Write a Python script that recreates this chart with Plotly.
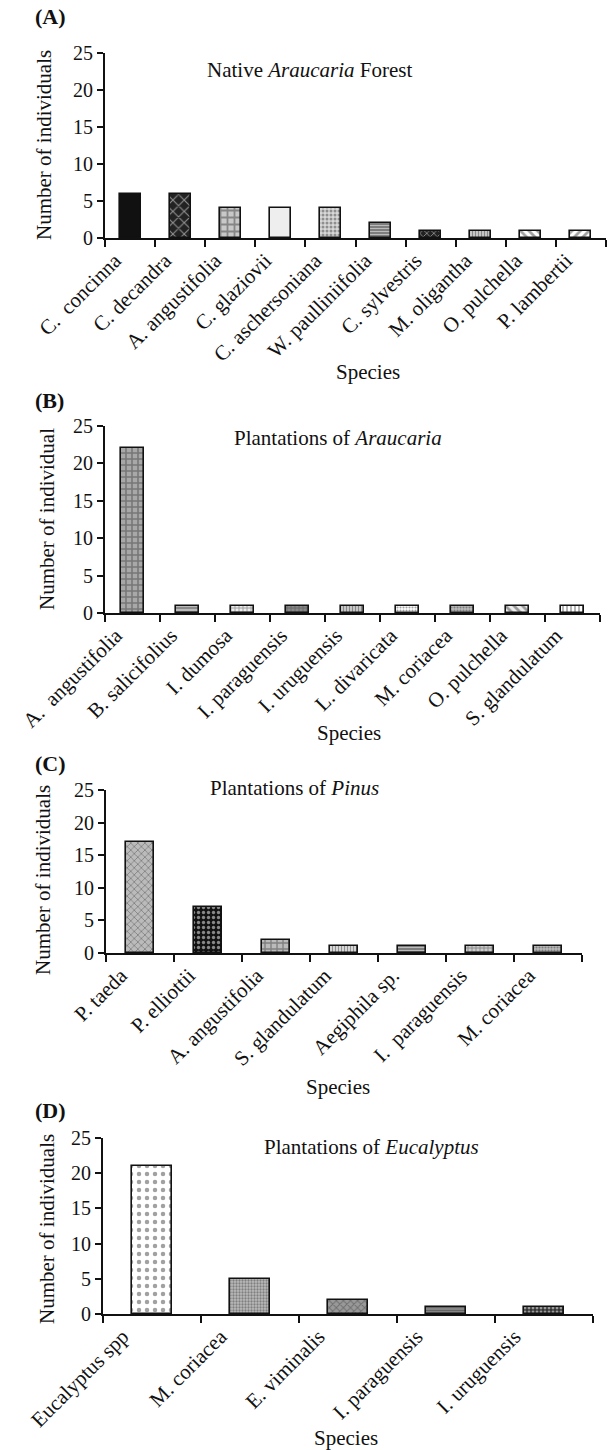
import plotly.graph_objects as go

# ---------------- data ----------------
cats_a = ["C.  concinna", "C. decandra", "A. angustifolia", "C. glaziovii", "C. aschersoniana",
          "W. paulliniifolia", "C. sylvestris", "M. oligantha", "O. pulchella", "P. lambertii"]
vals_a = [6, 6, 4, 4, 4, 2, 1, 1, 1, 1]

cats_b = ["A.  angustifolia", "B. salicifolius", "I. dumosa", "I. paraguensis", "I. uruguensis",
          "L. divaricata", "M. coriacea", "O. pulchella", "S. glandulatum"]
vals_b = [22, 1, 1, 1, 1, 1, 1, 1, 1]

cats_c = ["P. taeda", "P. elliottii", "A. angustifolia", "S. glandulatum", "Aegiphila sp.",
          "I.  paraguensis", "M. coriacea"]
vals_c = [17, 7, 2, 1, 1, 1, 1]

cats_d = ["Eucalyptus spp", "M. coriacea", "E. viminalis", "I. paraguensis", "I. uruguensis"]
vals_d = [21, 5, 2, 1, 1]

yticks = [0, 5, 10, 15, 20, 25]

panel_letters = ["(A)", "(B)", "(C)", "(D)"]
panel_titles = ["Native <i>Araucaria</i> Forest", "Plantations of <i>Araucaria</i>",
                "Plantations of <i>Pinus</i>", "Plantations of <i>Eucalyptus</i>"]
ytitles = ["Number of individuals", "Number of individual",
           "Number of individuals", "Number of individuals"]
xtitle = "Species"

# ---------------- styles ----------------
# (shape, fg, bg, size, solidity)
sty_a = [("", "#111", "#111111", 8, 0.3), ("x", "#ffffff", "#222222", 8, 0.25), ("+", "#111", "#c8c8c8", 7, 0.45),
         ("", "#eee", "#eeeeee", 8, 0.3), (".", "#666", "#d8d8d8", 4, 0.45), ("-", "#333", "#777777", 3, 0.4),
         ("x", "#aaa", "#222222", 5, 0.3), ("|", "#333", "#cccccc", 3, 0.4), ("\\", "#111", "#ffffff", 6, 0.45),
         ("/", "#111", "#ffffff", 6, 0.45)]
sty_b = [("+", "#111", "#a8a8a8", 6, 0.45), ("-", "#555", "#bbbbbb", 4, 0.4), ("+", "#777", "#eeeeee", 4, 0.4),
         ("+", "#111", "#888888", 4, 0.4), ("|", "#222", "#cccccc", 3, 0.4), (".", "#999", "#ffffff", 3, 0.4),
         (".", "#555", "#bbbbbb", 3, 0.4), ("\\", "#111", "#eeeeee", 6, 0.45), ("|", "#111", "#ffffff", 4, 0.4)]
sty_c = [("x", "#ffffff", "#bbbbbb", 5, 0.3), (".", "#999", "#111111", 5, 0.35), ("+", "#111", "#bbbbbb", 6, 0.4),
         ("|", "#333", "#dddddd", 3, 0.4), ("-", "#222", "#777777", 3, 0.4), ("+", "#333", "#cccccc", 4, 0.4),
         (".", "#555", "#bbbbbb", 3, 0.4)]
sty_d = [(".", "#999", "#ffffff", 8, 0.25), (".", "#666", "#bbbbbb", 3, 0.45), ("x", "#111", "#999999", 5, 0.35),
         ("-", "#333", "#888888", 3, 0.4), (".", "#ffffff", "#333333", 4, 0.4)]

W, H = 612, 1450
# pixel layout: (x0, x1, ytop, ybottom)
boxes = [(105, 606, 53, 238), (105, 600, 426, 613), (106, 582, 790, 953), (103, 593, 1138, 1314)]
bar_w = [0.42, 0.42, 0.4, 0.4]
lab_off = [0.3, 0.3, 0.28, 0.3]
letter_pos = [(33, 17), (33, 400), (33, 763), (33, 1110)]
title_pos = [(309, 70), (338, 438), (294, 788), (372, 1147)]
xtitle_pos = [(368, 372), (349, 733), (338, 1087), (346, 1438)]
ytitle_pos = [(44, 145), (47, 519), (43, 880), (47, 1229)]

FONT = "Liberation Serif, Times New Roman, serif"

fig = go.Figure()
panels = [(cats_a, vals_a, sty_a), (cats_b, vals_b, sty_b), (cats_c, vals_c, sty_c), (cats_d, vals_d, sty_d)]
annotations = []
for k, (cats, vals, sty) in enumerate(panels):
    n = len(cats)
    xs = list(range(n))
    sfx = "" if k == 0 else str(k + 1)
    fig.add_trace(go.Bar(
        x=xs, y=vals, width=bar_w[k], xaxis="x" + sfx, yaxis="y" + sfx,
        marker=dict(
            color=[s[2] for s in sty],
            line=dict(color="#111", width=1.6),
            pattern=dict(shape=[s[0] for s in sty], fgcolor=[s[1] for s in sty],
                         size=[s[3] for s in sty], solidity=[s[4] for s in sty],
                         fillmode="overlay"),
        ),
        showlegend=False, hoverinfo="skip",
    ))
    x0, x1, yt, yb = boxes[k]
    fig.update_layout(**{
        "xaxis" + sfx: dict(
            domain=[x0 / W, x1 / W], range=[-0.5, n - 0.5], anchor="y" + sfx, automargin=False,
            tickmode="array", tickvals=[i - lab_off[k] for i in xs], ticktext=cats,
            tickangle=-45, ticks="", showgrid=False, zeroline=False,
            showline=True, linecolor="#111", linewidth=2,
            tickfont=dict(family=FONT, size=21, color="#111"),
            minor=dict(tickmode="array", tickvals=[i - 0.5 for i in range(n + 1)],
                       ticks="outside", ticklen=7, tickwidth=2, tickcolor="#111", showgrid=False),
        ),
        "yaxis" + sfx: dict(
            domain=[1 - yb / H, 1 - yt / H], range=[0, 25], anchor="x" + sfx, automargin=False,
            tickmode="array", tickvals=yticks, ticks="outside", ticklen=6, tickwidth=2,
            tickcolor="#111", showgrid=False, zeroline=False,
            showline=True, linecolor="#111", linewidth=2,
            tickfont=dict(family=FONT, size=20, color="#111"),
        ),
    })
    lx, ly = letter_pos[k]
    annotations.append(dict(text="<b>" + panel_letters[k] + "</b>", x=lx / W, y=1 - ly / H,
                            xref="paper", yref="paper", xanchor="left", yanchor="middle",
                            showarrow=False, font=dict(family=FONT, size=22, color="#111")))
    tx, ty = title_pos[k]
    annotations.append(dict(text=panel_titles[k], x=tx / W, y=1 - ty / H, xref="paper", yref="paper",
                            xanchor="center", yanchor="middle", showarrow=False,
                            font=dict(family=FONT, size=21, color="#111")))
    sx, sy = xtitle_pos[k]
    annotations.append(dict(text=xtitle, x=sx / W, y=1 - sy / H, xref="paper", yref="paper",
                            xanchor="center", yanchor="middle", showarrow=False,
                            font=dict(family=FONT, size=21, color="#111")))
    yx, yy = ytitle_pos[k]
    annotations.append(dict(text=ytitles[k], x=yx / W, y=1 - yy / H, xref="paper", yref="paper",
                            xanchor="center", yanchor="middle", textangle=-90, showarrow=False,
                            font=dict(family=FONT, size=21, color="#111")))

fig.update_layout(width=W, height=H, margin=dict(l=0, r=0, t=0, b=0, autoexpand=False),
                  paper_bgcolor="white", plot_bgcolor="white",
                  annotations=annotations, bargap=0)
fig.write_html("out.html")
